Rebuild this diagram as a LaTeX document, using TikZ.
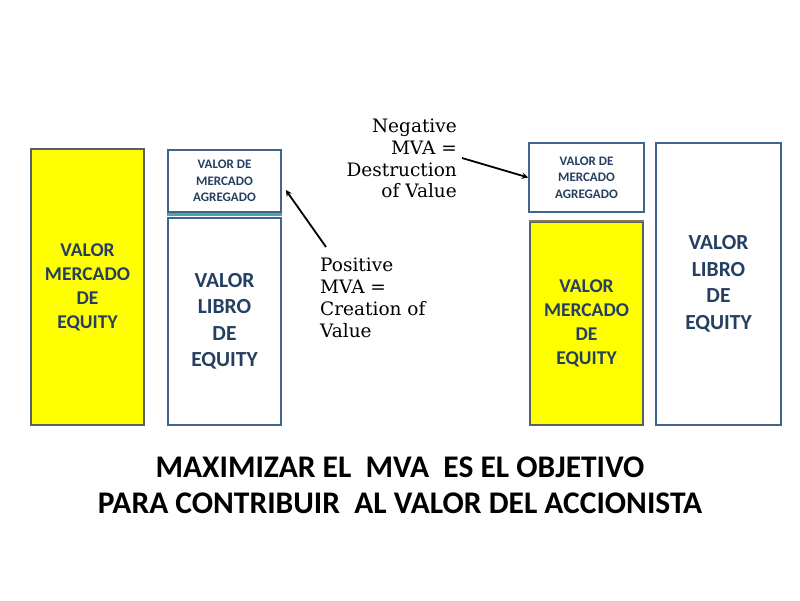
\documentclass[tikz,border=0pt]{standalone}
\usepackage{fontspec}
\setmainfont{Carlito}
\newfontfamily\annfont{DejaVu Serif}
\usetikzlibrary{calc}
\definecolor{mvayellow}{HTML}{FFFF00}
\definecolor{mvatext}{HTML}{243F60}
\definecolor{mvaframe}{HTML}{41648C}
\definecolor{mvagray}{HTML}{55606A}
\definecolor{mvateal}{HTML}{4BA3AE}
\definecolor{mvabrown}{HTML}{8C7A3C}

\begin{document}
\begin{tikzpicture}[x=1pt,y=-1pt,
  valbox/.style={draw=mvaframe, line width=1.6pt, fill=white, inner sep=0pt,
    align=center, text=mvatext},
  mktbox/.style={valbox, draw=mvagray, fill=mvayellow},
  bigtxt/.style={font=\fontsize{19.5}{24}\selectfont\bfseries},
  libtxt/.style={font=\fontsize{21.5}{26.5}\selectfont\bfseries},
  smalltxt/.style={font=\fontsize{13}{16.5}\selectfont\bfseries},
  anntxt/.style={font=\fontsize{18.5}{21.8}\selectfont\annfont, inner sep=0pt},
  mvaarrow/.style={-stealth, line width=1.8pt, black}]
  \useasboundingbox[fill=white] (0,0) rectangle (800,600);
  % left pair: positive MVA
  \node[mktbox, bigtxt, minimum width=113pt, minimum height=276pt] (mercL) at (87.5,287)
    {VALOR\\MERCADO\\DE\\EQUITY};
  \node[valbox, smalltxt, minimum width=113pt, minimum height=62pt] (agrL) at (224.5,181)
    {VALOR DE\\MERCADO\\AGREGADO};
  \node[valbox, libtxt, minimum width=113pt, minimum height=207pt] (libL) at (224.5,321.5)
    {VALOR\\LIBRO\\DE\\EQUITY};
  \draw[mvateal, line width=2.5pt] ([yshift=2.5pt]libL.north west) -- ([yshift=2.5pt]libL.north east);
  % right pair: negative MVA
  \node[valbox, smalltxt, minimum width=115pt, minimum height=69pt] (agrR) at (586.5,177.5)
    {VALOR DE\\MERCADO\\AGREGADO};
  \node[mktbox, bigtxt, minimum width=113pt, minimum height=203pt] (mercR) at (586.5,323.5)
    {VALOR\\MERCADO\\DE\\EQUITY};
  \draw[mvabrown, line width=2.5pt] (mercR.north west) -- (mercR.north east);
  \node[valbox, libtxt, minimum width=125pt, minimum height=282pt] (libR) at (718.5,284)
    {VALOR\\LIBRO\\DE\\EQUITY};
  % annotations
  \node[anntxt, align=left, anchor=west] (posLbl) at (320,298)
    {Positive\\MVA =\\Creation of\\Value};
  \node[anntxt, align=right, anchor=east] (negLbl) at (457,158.5)
    {Negative\\MVA =\\Destruction\\of Value};
  \coordinate (posTail) at (326,247);
  \coordinate (negTail) at (462,158);
  \draw[mvaarrow] (posTail) -- ($(agrL.east)+(4,9)$);
  \draw[mvaarrow] (negTail) -- (agrR.west);
  % conclusion
  \node[align=center, font=\fontsize{31.5}{36}\selectfont\bfseries] (goal) at (400,485)
    {MAXIMIZAR EL\ \ MVA\ \ ES EL OBJETIVO\\PARA CONTRIBUIR\ \ AL VALOR DEL ACCIONISTA};
\end{tikzpicture}
\end{document}
